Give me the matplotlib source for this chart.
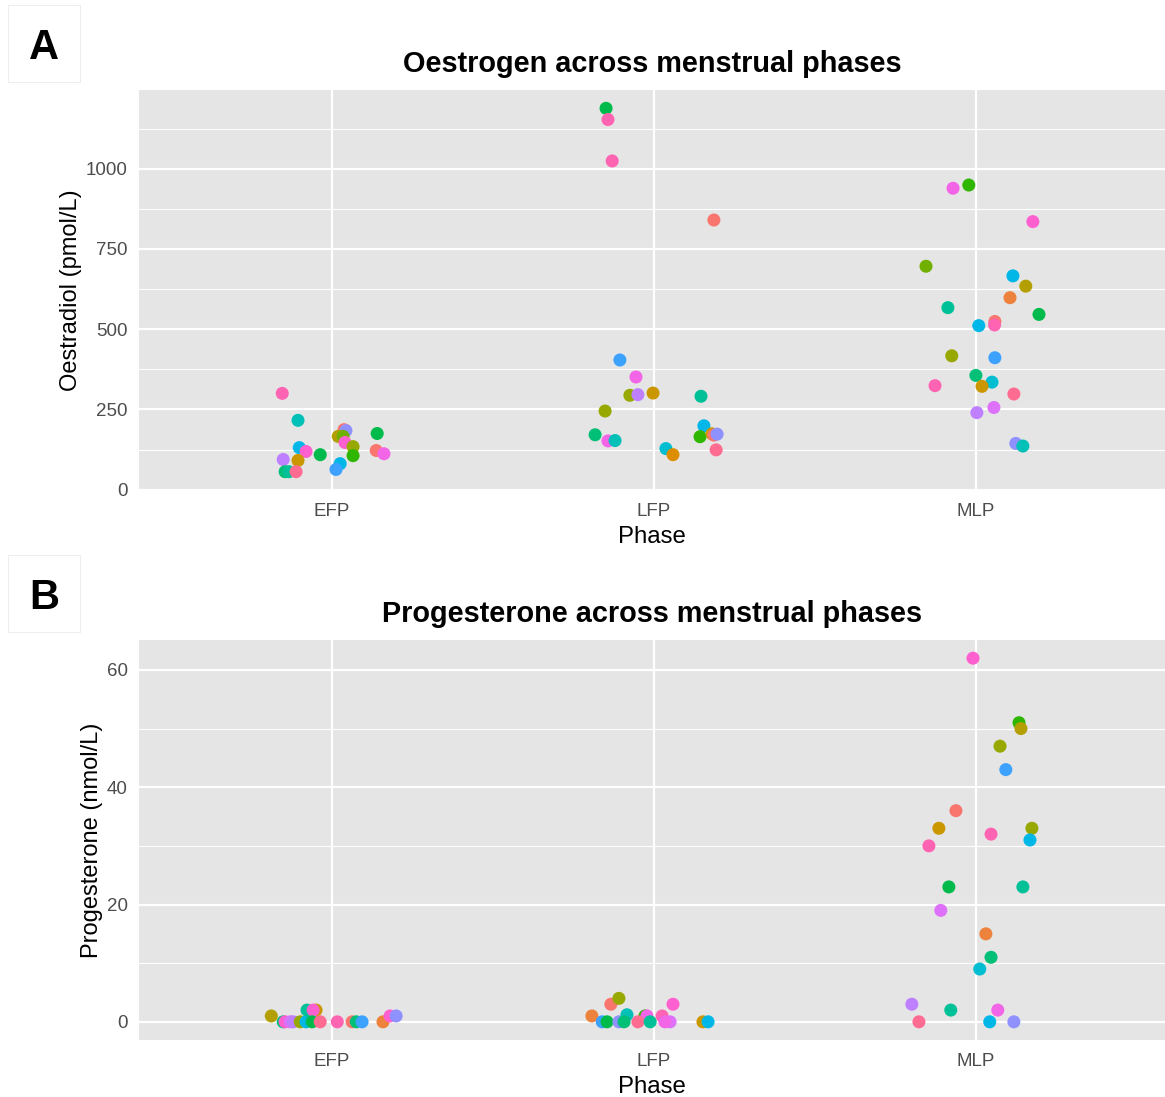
import numpy as np
import matplotlib
matplotlib.use('Agg')
import matplotlib.pyplot as plt

plt.rcParams['font.family'] = ['Liberation Sans', 'DejaVu Sans']

## categories and tick labels
phases = ['EFP', 'LFP', 'MLP']
oe_ticks = [0, 250, 500, 750, 1000]
pr_ticks = [0, 20, 40, 60]

## Oestradiol (pmol/L): values, jitter offsets (category units), colour index
oe_efp_val = [300, 216, 131, 119, 109, 94, 91, 56, 56, 56, 187, 184, 166, 166, 147, 134, 106, 81, 63, 175, 122, 112]
oe_efp_jit = [-0.155, -0.106, -0.102, -0.081, -0.037, -0.152, -0.106, -0.146, -0.134, -0.112, 0.037, 0.043,
              0.019, 0.034, 0.040, 0.065, 0.065, 0.025, 0.012, 0.140, 0.137, 0.161]
oe_efp_col = [21, 11, 13, 20, 8, 17, 3, 9, 10, 22, 0, 16, 4, 6, 20, 5, 7, 13, 15, 8, 0, 19]

oe_lfp_val = [1188, 1153, 1024, 840, 404, 351, 294, 296, 301, 291, 245, 171, 152, 153, 199, 165, 174, 170, 173, 124, 128, 109]
oe_lfp_jit = [-0.149, -0.143, -0.130, 0.186, -0.106, -0.056, -0.075, -0.050, -0.003, 0.146, -0.152, -0.183,
              -0.143, -0.121, 0.155, 0.143, 0.180, 0.186, 0.196, 0.193, 0.037, 0.059]
oe_lfp_col = [8, 21, 21, 0, 15, 19, 5, 17, 3, 10, 5, 9, 19, 11, 13, 7, 3, 0, 16, 22, 12, 2]

oe_mlp_val = [939, 949, 835, 696, 666, 634, 598, 567, 546, 524, 513, 511, 417, 411, 356, 335, 322, 324, 298, 256, 240, 144, 136]
oe_mlp_jit = [-0.071, -0.022, 0.177, -0.155, 0.115, 0.155, 0.106, -0.087, 0.196, 0.059, 0.058, 0.009, -0.075,
              0.059, 0.000, 0.050, 0.019, -0.127, 0.118, 0.056, 0.003, 0.124, 0.146]
oe_mlp_col = [19, 7, 20, 6, 13, 4, 1, 10, 8, 0, 21, 13, 5, 15, 9, 12, 3, 21, 22, 18, 17, 16, 11]

## Progesterone (nmol/L)
pr_efp_val = [1, 0, 0, 0, 0, 0, 0, 2, 2, 2, 0, 0, 0, 0, 0, 0, 0, 1, 1]
pr_efp_jit = [-0.189, -0.152, -0.146, -0.130, -0.121, -0.099, -0.081, -0.078, -0.050, -0.059, -0.062, -0.037,
              0.016, 0.062, 0.075, 0.093, 0.158, 0.180, 0.199]
pr_efp_col = [4, 9, 20, 18, 17, 5, 13, 10, 3, 20, 8, 22, 21, 0, 9, 15, 1, 20, 16]

pr_lfp_val = [1, 3, 4, 0, 0, 0, 1.2, 0, 1, 1, 0, 0, 1, 0, 0, 3, 0, 0]
pr_lfp_jit = [-0.193, -0.134, -0.109, -0.161, -0.146, -0.109, -0.084, -0.093, -0.028, -0.022, -0.050, -0.012,
              0.025, 0.050, 0.034, 0.059, 0.152, 0.168]
pr_lfp_col = [1, 0, 5, 15, 8, 16, 11, 9, 7, 19, 22, 10, 21, 18, 19, 20, 3, 13]

pr_mlp_val = [62, 51, 50, 47, 43, 36, 33, 32, 33, 31, 30, 23, 23, 19, 15, 11, 9, 3, 2, 2, 0, 0, 0]
pr_mlp_jit = [-0.009, 0.134, 0.140, 0.075, 0.093, -0.062, -0.115, 0.047, 0.174, 0.168, -0.146, -0.084, 0.146,
              -0.109, 0.031, 0.047, 0.012, -0.199, -0.078, 0.068, -0.177, 0.043, 0.118]
pr_mlp_col = [20, 7, 4, 5, 15, 0, 3, 21, 5, 13, 21, 8, 10, 18, 1, 9, 12, 17, 10, 19, 22, 13, 16]


def hue_pal(n, l=65.0, c=100.0):
    # ggplot2 default hue palette (polar LUV -> sRGB)
    h = np.deg2rad(np.linspace(15, 375, n + 1)[:-1])
    u = c * np.cos(h)
    v = c * np.sin(h)
    xn, yn, zn = 95.047, 100.0, 108.883
    un = 4 * xn / (xn + 15 * yn + 3 * zn)
    vn = 9 * yn / (xn + 15 * yn + 3 * zn)
    Y = np.full(n, yn * ((l + 16) / 116) ** 3)
    up = u / (13 * l) + un
    vp = v / (13 * l) + vn
    X = Y * 9 * up / (4 * vp)
    Z = Y * (12 - 3 * up - 20 * vp) / (4 * vp)
    xyz = np.vstack([X, Y, Z]) / 100.0
    m = np.array([[3.2404542, -1.5371385, -0.4985314],
                  [-0.9692660, 1.8760108, 0.0415560],
                  [0.0556434, -0.2040259, 1.0572252]])
    rgb = m @ xyz
    rgb = np.where(rgb <= 0.0031308, 12.92 * rgb, 1.055 * np.clip(rgb, 0, None) ** (1 / 2.4) - 0.055)
    return np.clip(rgb.T, 0, 1)


pal = hue_pal(23)

W, H = 1165, 1097
fig = plt.figure(figsize=(W / 100, H / 100), dpi=100)

ax_left = 139 / W
ax_w = (W - 139) / W
axA = fig.add_axes([ax_left, 1 - 490 / H, ax_w, (490 - 90) / H])
axB = fig.add_axes([ax_left, 1 - 1040 / H, ax_w, (1040 - 640) / H])


def draw(ax, groups, ticks, minor, ylim, title, ylabel):
    ax.set_facecolor('#E5E5E5')
    for sp in ax.spines.values():
        sp.set_visible(False)
    ax.set_axisbelow(True)
    for y in minor:
        ax.axhline(y, color='white', linewidth=0.8, zorder=0)
    for y in ticks:
        ax.axhline(y, color='white', linewidth=1.6, zorder=0)
    for i in range(len(phases)):
        ax.axvline(i + 1, color='white', linewidth=1.6, zorder=0)
    for i, (vals, jit, cols) in enumerate(groups):
        x = np.array(jit) + i + 1
        ax.scatter(x, vals, s=88, c=pal[cols], edgecolors='none', zorder=3)
    ax.set_xlim(0.4, 3.5875)
    ax.set_ylim(*ylim)
    ax.set_xticks([1, 2, 3])
    ax.set_xticklabels(phases)
    ax.set_yticks(ticks)
    ax.tick_params(length=0, labelsize=13.5, colors='#4D4D4D')
    ax.tick_params(axis='x', pad=9)
    ax.tick_params(axis='y', pad=8)
    ax.set_title(title, fontsize=20.8, fontweight='bold', pad=13)
    ax.set_xlabel('Phase', fontsize=17.3, labelpad=5)
    ax.set_ylabel(ylabel, fontsize=17, labelpad=3)


draw(axA, [(oe_efp_val, oe_efp_jit, oe_efp_col),
           (oe_lfp_val, oe_lfp_jit, oe_lfp_col),
           (oe_mlp_val, oe_mlp_jit, oe_mlp_col)],
     oe_ticks, [125, 375, 625, 875, 1125], (-1, 1245),
     'Oestrogen across menstrual phases', 'Oestradiol (pmol/L)')

draw(axB, [(pr_efp_val, pr_efp_jit, pr_efp_col),
           (pr_lfp_val, pr_lfp_jit, pr_lfp_col),
           (pr_mlp_val, pr_mlp_jit, pr_mlp_col)],
     pr_ticks, [10, 30, 50], (-3.1, 65.1),
     'Progesterone across menstrual phases', 'Progesterone (nmol/L)')

# panel letters in small boxes
for lab, top in [('A', 5), ('B', 555)]:
    fig.patches.append(plt.Rectangle((8 / W, 1 - (top + 77) / H), 72 / W, 77 / H,
                                     transform=fig.transFigure, facecolor='white',
                                     edgecolor='#EEEEEE', linewidth=0.8))
    fig.text(44 / W, 1 - (top + 43) / H, lab, fontsize=30, fontweight='bold',
             ha='center', va='center')

fig.savefig('out.png', dpi=100)
